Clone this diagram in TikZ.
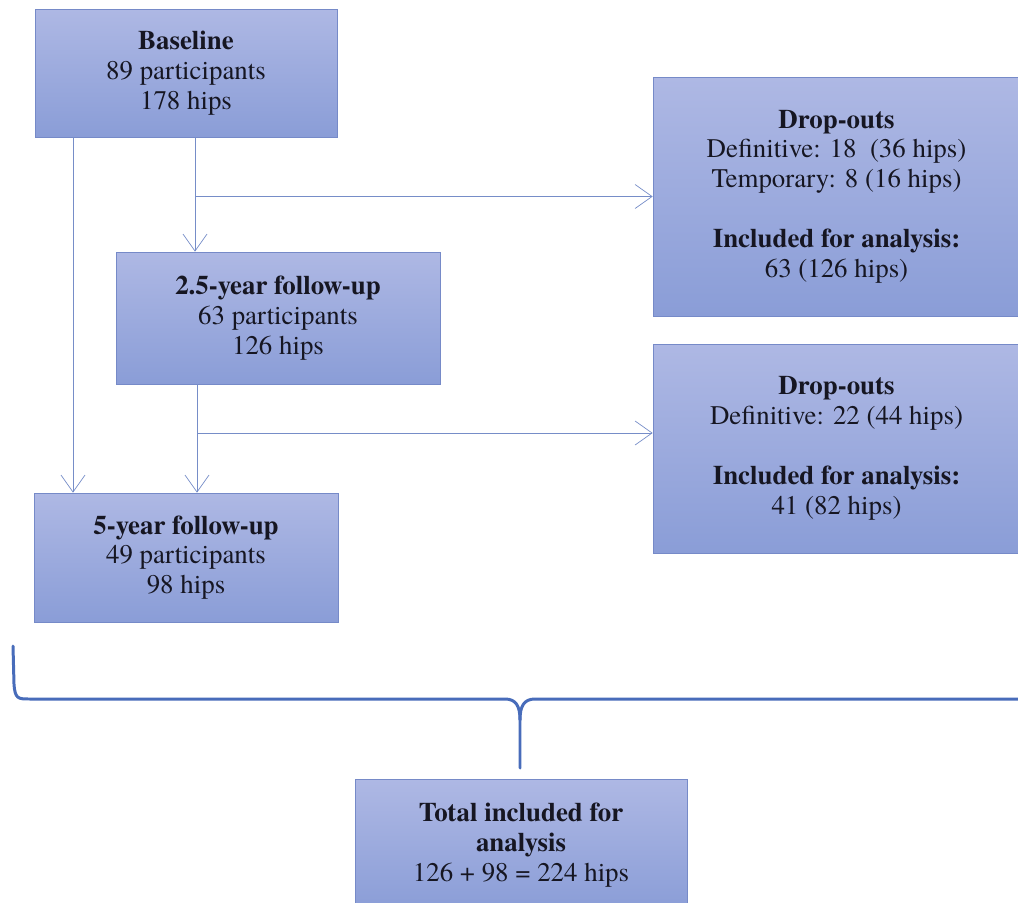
\documentclass[tikz,border=0pt]{standalone}
\usepackage{fontspec}
\setmainfont{TeX Gyre Termes}
\usetikzlibrary{arrows.meta,positioning}
\usepackage{xcolor}
\definecolor{boxtop}{RGB}{174,184,228}
\definecolor{boxbot}{RGB}{138,157,215}
\definecolor{boxline}{RGB}{118,138,200}
\definecolor{arrline}{RGB}{118,141,200}
\definecolor{bracecol}{RGB}{72,108,186}
\definecolor{txt}{RGB}{22,22,34}

\begin{document}
\begin{tikzpicture}[x=0.02cm,y=-0.02cm]
\tikzstyle{block} = [rectangle, draw=boxline, thin, top color=boxtop, bottom color=boxbot,
text=txt, align=center, inner sep=0pt, font=\fontsize{15.3}{17}\selectfont]
\tikzstyle{line} = [draw=arrline, thin, -{Straight Barb[length=0.34cm,width=0.48cm]}];
\tikzstyle{brace} = [draw=bracecol, line width=1.7pt, line cap=round];

\useasboundingbox (0,0) rectangle (1018,903);

% left column
\node [block, minimum width=6.04cm, minimum height=2.56cm] (base) at (186,73)
{\textbf{Baseline}\\89 participants\\178 hips};
\node [block, minimum width=6.48cm, minimum height=2.64cm] (fu25) at (278,318)
{\textbf{2.5-year follow-up}\\63 participants\\126 hips};
\node [block, minimum width=6.08cm, minimum height=2.58cm] (fu5) at (186,557.5)
{\textbf{5-year follow-up}\\49 participants\\98 hips};
% right column
\node [block, minimum width=7.34cm, minimum height=4.78cm] (drop1) at (836.5,196.5)
{\textbf{Drop-outs}\\Definitive: 18~~(36 hips)\\Temporary: 8 (16 hips)\\[17pt]
\textbf{Included for analysis:}\\63 (126 hips)};
\node [block, minimum width=7.34cm, minimum height=4.18cm] (drop2) at (836.5,448.5)
{\textbf{Drop-outs}\\Definitive: 22 (44 hips)\\[17pt]
\textbf{Included for analysis:}\\41 (82 hips)};
% bottom
\node [block, minimum width=6.64cm, minimum height=2.64cm] (total) at (521,845)
{\textbf{Total included for}\\\textbf{analysis}\\126 + 98 = 224 hips};

\coordinate (trunk) at (73,0);
\coordinate (split1) at (195,0);
\coordinate (split2) at (197,0);
\coordinate (branch2) at (197,433);

\path [line] (base.south -| trunk) -- (fu5.north -| trunk);
\path [line] (base.south -| split1) -- (fu25.north -| split1);
\path [line] (split1 |- drop1.west) -- (drop1.west);
\path [line] (fu25.south -| split2) -- (fu5.north -| split2);
\path [line] (branch2) -- (branch2 -| drop2.west);

% brace
\draw [brace] (13,646) -- (14,684) .. controls (15,699) and (18,699) .. (30,699)
  -- (505,699) .. controls (516,699) and (520,706) .. (520,720) -- (520,768);
\draw [brace] (520,720) .. controls (520,706) and (524,699) .. (535,699) -- (1030,699);

\end{tikzpicture}
\end{document}
